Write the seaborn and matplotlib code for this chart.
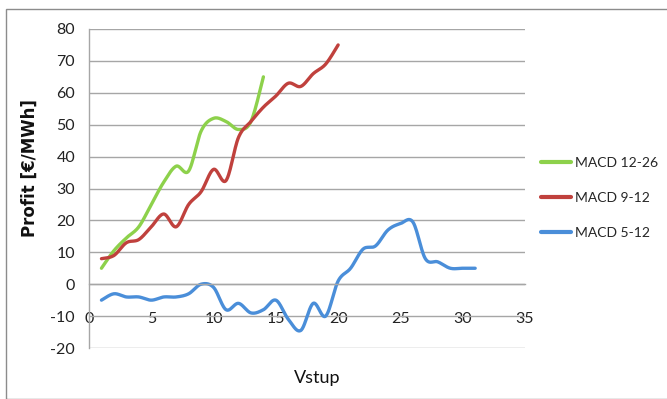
import numpy as np
import pandas as pd
import matplotlib
matplotlib.use("Agg")
import matplotlib.pyplot as plt
from matplotlib.patches import Rectangle
from matplotlib.lines import Line2D
import seaborn as sns

# ---- data ----
x_12_26 = list(range(1, 15))
macd_12_26 = [5, 10.5, 14.5, 18, 25, 32, 37, 35.5, 48, 52, 51, 48.5, 51, 65]

x_9_12 = list(range(1, 21))
macd_9_12 = [8, 9, 13, 14, 18, 22, 18, 25, 29, 36, 32.5, 46, 51, 55.5, 59, 63, 62, 66, 69, 75]

x_5_12 = list(range(1, 32))
macd_5_12 = [-5, -3, -4, -4, -5, -4, -4, -3, 0, -1, -8, -6, -9, -8, -5, -11, -14.5,
             -6, -10, 1, 5, 11, 12, 17, 19, 19.5, 8, 7, 5, 5, 5]

series_names = ["MACD 12-26", "MACD 9-12", "MACD 5-12"]
colors = ["#8DD14B", "#C0413D", "#4A8ED9"]
x_ticks = [0, 5, 10, 15, 20, 25, 30, 35]
y_ticks = [-20, -10, 0, 10, 20, 30, 40, 50, 60, 70, 80]


def smooth(xs, ys, n=24):
    """Catmull-Rom rendering of the series (like Excel's smoothed line)."""
    pts = np.column_stack([xs, ys]).astype(float)
    P = np.vstack([pts[0], pts, pts[-1]])
    t = np.linspace(0, 1, n, endpoint=False)[:, None]
    out = []
    for i in range(1, len(P) - 2):
        p0, p1, p2, p3 = P[i - 1], P[i], P[i + 1], P[i + 2]
        seg = 0.5 * ((2 * p1) + (-p0 + p2) * t + (2 * p0 - 5 * p1 + 4 * p2 - p3) * t ** 2
                     + (-p0 + 3 * p1 - 3 * p2 + p3) * t ** 3)
        out.append(seg)
    out.append(pts[-1][None, :])
    out = np.vstack(out)
    return out[:, 0], out[:, 1]


frames = []
for name, xs, ys in zip(series_names, [x_12_26, x_9_12, x_5_12], [macd_12_26, macd_9_12, macd_5_12]):
    sx, sy = smooth(xs, ys)
    frames.append(pd.DataFrame({"x": sx, "y": sy, "series": name}))
df = pd.concat(frames, ignore_index=True)

sns.set_style("white")
plt.rcParams["font.family"] = ["Lato", "DejaVu Sans"]

fig = plt.figure(figsize=(6.67, 3.99), dpi=100)
ax = fig.add_axes([89 / 667, 1 - 348 / 399, (525 - 89) / 667, (348 - 29) / 399])

sns.lineplot(data=df, x="x", y="y", hue="series", palette=dict(zip(series_names, colors)),
             sort=False, estimator=None, linewidth=2.4, ax=ax, legend=False)

ax.set_xlim(0, 35)
ax.set_ylim(-20, 80)
ax.set_xticks(x_ticks)
ax.set_yticks(y_ticks)
ax.set_xticklabels([str(v) for v in x_ticks])
ax.set_yticklabels([str(v) for v in y_ticks])

grid_c = "#A6A6A6"
ax.yaxis.grid(True, color=grid_c, linewidth=1.0)
ax.xaxis.grid(False)
ax.set_axisbelow(True)
for s in ["top", "right"]:
    ax.spines[s].set_visible(False)
ax.spines["left"].set_color(grid_c)
ax.spines["left"].set_linewidth(1.0)
ax.spines["bottom"].set_position(("data", 0))
ax.spines["bottom"].set_color(grid_c)
ax.spines["bottom"].set_linewidth(1.0)

ax.tick_params(axis="x", direction="out", length=6, width=1, color=grid_c, pad=14,
               labelsize=11.5, labelcolor="#222222")
ax.tick_params(axis="y", direction="out", length=4, width=1, color=grid_c, pad=6,
               labelsize=11.5, labelcolor="#222222")

ax.set_xlabel("")
ax.set_ylabel("")
fig.text(30 / 667, 1 - 168 / 399, "Profit [€/MWh]", rotation=90, ha="center", va="center",
         fontsize=12, fontweight="bold", family=["DejaVu Sans"], color="#111111")
fig.text(317 / 667, 1 - 378 / 399, "Vstup", ha="center", va="center", fontsize=13,
         color="#111111")

handles = [Line2D([0], [0], color=c, linewidth=3) for c in colors]
fig.legend(handles, series_names, loc="upper left", bbox_to_anchor=(541 / 667, 1 - 157 / 399),
           frameon=False, fontsize=10, handlelength=2.15, handletextpad=0.3, labelspacing=1.65,
           borderaxespad=0, borderpad=0)

fig.patches.append(Rectangle((6 / 667, 0.0), 1.0, 1 - 9 / 399, transform=fig.transFigure,
                             fill=False, edgecolor="#8C8C8C", linewidth=1.0))

fig.savefig("out.png", dpi=100)
